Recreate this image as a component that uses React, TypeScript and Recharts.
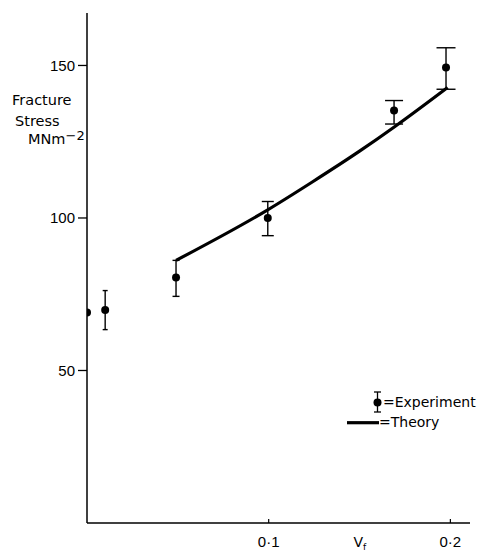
import { ComposedChart, XAxis, YAxis, Line, Scatter, ErrorBar, Legend, Label } from "recharts";

// experiment: fibre volume fraction vs fracture stress (MN m^-2)
const vf = [0, 0.01, 0.049, 0.0995, 0.169, 0.1976];
const stress = [69.0, 69.8, 80.5, 100.0, 135.2, 149.3];
const stressLow = [69.0, 63.4, 74.3, 94.2, 130.8, 142.2];
const stressHigh = [69.0, 76.2, 86.1, 105.4, 138.5, 155.8];
const capHalfWidth = [0, 2.5, 3.5, 6, 9, 9.5];

// theory curve
const theoryVf = [0.049, 0.099, 0.124, 0.15, 0.1695, 0.1985];
const theoryStress = [86.1, 102.5, 111.8, 121.9, 130.0, 142.8];

const yTicks = [50, 100, 150];
const xTicks = [0.1, 0.2];
const xTickLabels = ["0·1", "0·2"];

const X_MAX = 0.2108;
const Y_MAX = 167.2;
const INK = "#000";
const LABEL_FONT = "'DejaVu Sans', sans-serif";
const NUM_FONT = "'Liberation Sans', Arial, sans-serif";

const points = vf.map((x, i) => ({
  x,
  y: stress[i],
  err: [stress[i] - stressLow[i], stressHigh[i] - stress[i]],
  cap: capHalfWidth[i],
}));
const capGroups = Array.from(new Set(capHalfWidth));
const theory = theoryVf.map((x, i) => ({ x, y: theoryStress[i] }));

const Dot = (p: any) => <circle cx={p.cx} cy={p.cy} r={4} fill={INK} />;

const XTick = ({ x, y, payload }: any) => {
  const label = xTickLabels[xTicks.indexOf(payload.value)];
  return (
    <g>
      <line x1={x} x2={x} y1={y} y2={y - 4} stroke={INK} strokeWidth={1.2} />
      <text x={x} y={y + 24} textAnchor="middle" fontSize={15} fontFamily={NUM_FONT} fill={INK}>
        {label}
      </text>
    </g>
  );
};

const YLabel = ({ viewBox }: any) => {
  const top = viewBox.y;
  return (
    <g fill={INK} fontFamily={LABEL_FONT} fontSize={14.5}>
      <text x={12} y={top + 92}>Fracture</text>
      <text x={15} y={top + 113}>Stress</text>
      <text x={28} y={top + 131}>
        MNm
        <tspan dy={-4} fontSize={13}>−2</tspan>
      </text>
    </g>
  );
};

const XLabel = ({ viewBox }: any) => {
  const cx = viewBox.x + (viewBox.width * 0.15) / X_MAX;
  return (
    <text x={cx - 6} y={viewBox.y + 24} fontFamily={LABEL_FONT} fontSize={14} fill={INK}>
      V
      <tspan dy={3} fontSize={9}>f</tspan>
    </text>
  );
};

const LegendBox = () => (
  <svg width={140} height={45} style={{ display: "block" }}>
    <line x1={37.5} x2={37.5} y1={4} y2={24} stroke={INK} strokeWidth={1.3} />
    <line x1={34} x2={41} y1={4} y2={4} stroke={INK} strokeWidth={1.3} />
    <line x1={34} x2={41} y1={24} y2={24} stroke={INK} strokeWidth={1.3} />
    <circle cx={37.5} cy={14.5} r={4} fill={INK} />
    <text x={43} y={19} fontFamily={LABEL_FONT} fontSize={14} fill={INK}>=Experiment</text>
    <line x1={7} x2={39} y1={34.7} y2={34.7} stroke={INK} strokeWidth={3.2} />
    <text x={39} y={39} fontFamily={LABEL_FONT} fontSize={14} fill={INK}>=Theory</text>
  </svg>
);

export default function App() {
  return (
    <div style={{ position: "absolute", left: 0, top: 0, width: 478, height: 552, background: "#fff" }}>
      <ComposedChart width={478} height={552} margin={{ top: 13, right: 8, bottom: 0, left: 0 }}>
        <XAxis
          type="number"
          dataKey="x"
          domain={[0, X_MAX]}
          ticks={xTicks}
          tickSize={0}
          tickMargin={0}
          tick={<XTick />}
          height={29}
          axisLine={{ stroke: INK, strokeWidth: 1.5 }}
          allowDataOverflow
        >
          <Label content={<XLabel />} />
        </XAxis>
        <YAxis
          type="number"
          domain={[0, Y_MAX]}
          ticks={yTicks}
          tickSize={9}
          tickMargin={3}
          width={87}
          tick={{ fill: INK, fontSize: 15, fontFamily: NUM_FONT }}
          tickLine={{ stroke: INK, strokeWidth: 1.3 }}
          axisLine={{ stroke: INK, strokeWidth: 1.5 }}
          allowDataOverflow
        >
          <Label content={<YLabel />} />
        </YAxis>
        <Line
          data={theory}
          dataKey="y"
          type="monotone"
          stroke={INK}
          strokeWidth={3.2}
          dot={false}
          isAnimationActive={false}
        />
        {capGroups.map((cap) => (
          <Scatter
            key={cap}
            data={points.filter((p) => p.cap === cap)}
            dataKey="y"
            shape={Dot}
            isAnimationActive={false}
          >
            {cap > 0 && (
              <ErrorBar dataKey="err" direction="y" width={cap} stroke={INK} strokeWidth={1.4} />
            )}
          </Scatter>
        ))}
        <Legend
          layout="horizontal"
          verticalAlign="middle"
          align="center"
          content={<LegendBox />}
          wrapperStyle={{ position: "absolute", left: 340, top: 388, width: 140, height: 45, bottom: "auto" }}
        />
      </ComposedChart>
    </div>
  );
}
